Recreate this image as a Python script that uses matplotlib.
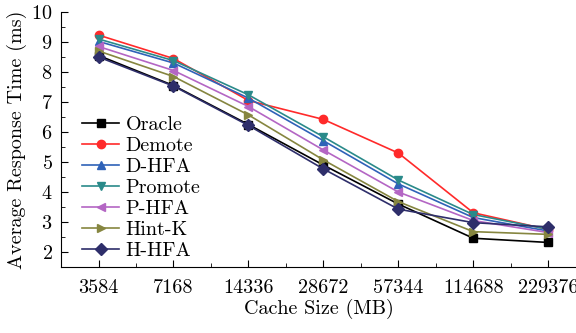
import numpy as np
import matplotlib
matplotlib.use("Agg")
import matplotlib.pyplot as plt
from matplotlib.ticker import MultipleLocator

plt.rcParams['font.family'] = 'cmr10'
plt.rcParams['axes.formatter.use_mathtext'] = True

cache_sizes = ['3584', '7168', '14336', '28672', '57344', '114688', '229376']

oracle = [8.55, 7.55, 6.25, 4.90, 3.60, 2.46, 2.32]
demote = [9.23, 8.45, 7.05, 6.42, 5.30, 3.31, 2.75]
d_hfa = [9.02, 8.30, 7.13, 5.71, 4.27, 3.15, 2.70]
promote = [9.10, 8.38, 7.24, 5.84, 4.40, 3.25, 2.76]
p_hfa = [8.85, 8.05, 6.85, 5.40, 4.00, 3.05, 2.65]
hint_k = [8.70, 7.85, 6.57, 5.07, 3.68, 2.68, 2.59]
h_hfa = [8.50, 7.53, 6.22, 4.77, 3.43, 2.98, 2.84]

series = [
    ('Oracle', oracle, 'black', 's'),
    ('Demote', demote, '#ff2a2a', 'o'),
    ('D-HFA', d_hfa, '#2f62b8', '^'),
    ('Promote', promote, '#2a8a8a', 'v'),
    ('P-HFA', p_hfa, '#b466c4', '<'),
    ('Hint-K', hint_k, '#868640', '>'),
    ('H-HFA', h_hfa, '#2e2e6a', 'D'),
]

fs = 14.5

fig = plt.figure(figsize=(5.76, 3.33), dpi=100)
ax = fig.add_axes([0.106, 0.198, 0.894, 0.766])

x = np.arange(len(cache_sizes))
for name, vals, col, mk in series:
    ax.plot(x, vals, color=col, marker=mk, markersize=6, linewidth=1.2, label=name)

ax.set_xlim(-0.5, 6.37)
ax.set_ylim(1.5, 10)
ax.set_xticks(x)
ax.set_xticklabels(cache_sizes)
ax.xaxis.set_minor_locator(MultipleLocator(0.5))
ax.yaxis.set_major_locator(MultipleLocator(1))
ax.yaxis.set_minor_locator(MultipleLocator(0.5))
ax.tick_params(direction='in', which='major', length=5, labelsize=fs)
ax.tick_params(direction='in', which='minor', length=3)
ax.tick_params(axis='x', which='major', pad=9)
ax.tick_params(axis='y', which='major', pad=6)

for s in ['top', 'right']:
    ax.spines[s].set_visible(False)

ax.set_xlabel('Cache Size (MB)', fontsize=fs, labelpad=1)
ax.set_ylabel('Average Response Time (ms)', fontsize=fs, labelpad=3)

ax.legend(loc='upper left', bbox_to_anchor=(0.033, 0.61), frameon=False,
          fontsize=fs, handlelength=1.85, labelspacing=0.15,
          handletextpad=0.3, borderaxespad=0.2, borderpad=0.0)

fig.savefig('out.png', dpi=100)
